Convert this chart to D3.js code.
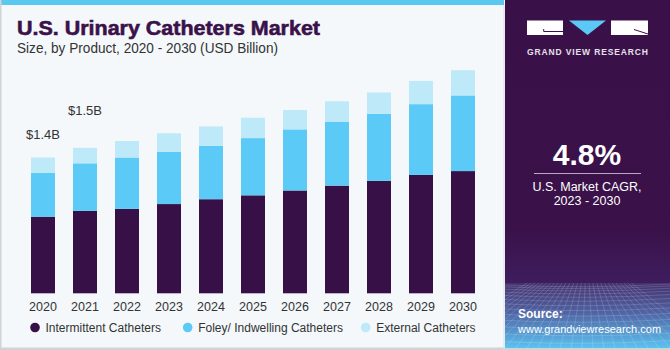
<!DOCTYPE html>
<html>
<head>
<meta charset="utf-8">
<script src="https://cdn.jsdelivr.net/npm/d3@7"></script>
<style>
  body { margin: 0; padding: 0; background: #fff; }
  svg { display: block; font-family: "Liberation Sans", Arial, sans-serif; }
</style>
</head>
<body>
<div id="chart"></div>
<script>
// data (USD billion)
const years = ["2020", "2021", "2022", "2023", "2024", "2025", "2026", "2027", "2028", "2029", "2030"];
const intermittent = [0.79, 0.85, 0.87, 0.92, 0.97, 1.01, 1.06, 1.11, 1.16, 1.22, 1.26];
const foley = [0.45, 0.49, 0.53, 0.54, 0.55, 0.59, 0.63, 0.66, 0.69, 0.73, 0.78];
const external = [0.16, 0.16, 0.17, 0.19, 0.20, 0.21, 0.20, 0.21, 0.22, 0.24, 0.26];
const seriesNames = ["Intermittent Catheters", "Foley/ Indwelling Catheters", "External Catheters"];
const valueLabels = ["$1.4B", "$1.5B"];

const width = 670, height = 350;
const colors = ["#371047", "#5bcaf7", "#bde9f9"];

const svg = d3.select("#chart").append("svg")
    .attr("width", width)
    .attr("height", height);

// chart background
svg.append("rect").attr("width", 505).attr("height", height).attr("fill", "#f4f8fb");
svg.append("rect").attr("width", 504).attr("height", 5).attr("fill", "#5bc8f0");
svg.append("rect").attr("x", 0).attr("y", 0).attr("width", 1.5).attr("height", height).attr("fill", "#cfd3d6");
svg.append("rect").attr("x", 0).attr("y", 347.5).attr("width", 505).attr("height", 2.5).attr("fill", "#cfd3d6");
svg.append("rect").attr("x", 503.5).attr("y", 5).attr("width", 1).attr("height", height).attr("fill", "#d6dde2");

// title
svg.append("text")
    .attr("x", 17).attr("y", 35)
    .attr("fill", "#3a1149")
    .attr("stroke", "#3a1149").attr("stroke-width", 0.6)
    .style("font-size", "21px").style("font-weight", "bold")
    .attr("textLength", 303).attr("lengthAdjust", "spacingAndGlyphs")
    .text("U.S. Urinary Catheters Market");
svg.append("text")
    .attr("x", 17).attr("y", 53)
    .attr("fill", "#333")
    .style("font-size", "14px")
    .attr("textLength", 261).attr("lengthAdjust", "spacingAndGlyphs")
    .text("Size, by Product, 2020 - 2030 (USD Billion)");

// scales
const x = d3.scaleBand()
    .domain(years)
    .range([22, 484])
    .paddingInner(0.4286)
    .paddingOuter(0.2143);

const y = d3.scaleLinear()
    .domain([0, 2.4])
    .range([293.3, 293.3 - 2.4 * 97]);

const table = years.map((yr, i) => ({
    year: yr,
    intermittent: intermittent[i],
    foley: foley[i],
    external: external[i]
}));

const stack = d3.stack().keys(["intermittent", "foley", "external"]);
const layers = stack(table);

const plot = svg.append("g");

plot.selectAll(".layer")
    .data(layers)
    .enter()
    .append("g")
    .attr("class", "layer")
    .attr("fill", (d, i) => colors[i])
    .selectAll("rect")
    .data(d => d)
    .enter()
    .append("rect")
    .attr("x", d => x(d.data.year))
    .attr("y", d => y(d[1]))
    .attr("width", x.bandwidth())
    .attr("height", d => y(d[0]) - y(d[1]));

// year labels
const xAxis = svg.append("g")
    .attr("transform", "translate(0,293.3)")
    .call(d3.axisBottom(x).tickSize(0).tickPadding(9));
xAxis.select(".domain").remove();
xAxis.selectAll("text")
    .attr("fill", "#333")
    .style("font-size", "12.5px")
    .style("font-family", "'Liberation Sans', Arial, sans-serif");

// value labels above the first two bars
svg.selectAll(".value-label")
    .data(valueLabels)
    .enter()
    .append("text")
    .attr("class", "value-label")
    .attr("x", (d, i) => x(years[i]) + x.bandwidth() / 2)
    .attr("y", (d, i) => y(layers[2][i][1]) - (i === 0 ? 19 : 33))
    .attr("text-anchor", "middle")
    .attr("fill", "#333")
    .style("font-size", "13px")
    .text(d => d);

// legend
const legendX = [35, 187.7, 365.7];
const legend = svg.selectAll(".legend")
    .data(seriesNames)
    .enter()
    .append("g")
    .attr("class", "legend")
    .attr("transform", (d, i) => `translate(${legendX[i]},327.5)`);
legend.append("circle")
    .attr("r", 4.8)
    .attr("fill", (d, i) => colors[i]);
legend.append("text")
    .attr("x", 10.5)
    .attr("y", 4.3)
    .attr("fill", "#333")
    .style("font-size", "12px")
    .text(d => d);

// right panel
const panel = svg.append("g").attr("transform", "translate(505,0)");
const defs = svg.append("defs");
const grad = defs.append("linearGradient")
    .attr("id", "srcGrad").attr("x1", 0).attr("y1", 0).attr("x2", 0).attr("y2", 1);
grad.append("stop").attr("offset", "0%").attr("stop-color", "#44306e");
grad.append("stop").attr("offset", "45%").attr("stop-color", "#4f63a3");
grad.append("stop").attr("offset", "100%").attr("stop-color", "#5cc2f0");
const topGrad = defs.append("linearGradient")
    .attr("id", "topGrad").attr("x1", 0).attr("y1", 0).attr("x2", 0).attr("y2", 1);
topGrad.append("stop").attr("offset", "0%").attr("stop-color", "#3a1048");
topGrad.append("stop").attr("offset", "80%").attr("stop-color", "#3a1149");
topGrad.append("stop").attr("offset", "100%").attr("stop-color", "#3e1d5e");

panel.append("rect").attr("width", 165).attr("height", 283).attr("fill", "url(#topGrad)");
panel.append("rect").attr("y", 283).attr("width", 165).attr("height", 65).attr("fill", "url(#srcGrad)");

// grid texture in source area
const gridG = panel.append("g")
    .attr("stroke", "#ffffff")
    .attr("stroke-opacity", 0.22)
    .attr("stroke-width", 0.7)
    .attr("fill", "none");
d3.range(0, 16).forEach(k => {
    const yy = 285 + k * k * 0.26 + k * 1.6;
    gridG.append("path").attr("d", `M0,${yy} Q82,${yy + 4} 165,${yy - 1}`);
});
d3.range(-8, 20).forEach(k => {
    const xb = k * 11;
    gridG.append("path").attr("d", `M${82 + (xb - 82) * 0.35},283 L${xb},348`);
});
panel.append("rect").attr("y", 348).attr("width", 165).attr("height", 2).attr("fill", "#cfd3d6");

// logo
panel.append("rect").attr("x", 22).attr("y", 20.5).attr("width", 36).attr("height", 14.5).attr("fill", "#fff");
panel.append("path").attr("d", "M64,20.5 L101,20.5 L82.5,35 Z").attr("fill", "#5bc8f5");
panel.append("rect").attr("x", 106).attr("y", 20.5).attr("width", 37).attr("height", 14.5).attr("fill", "#fff");
panel.append("path").attr("d", "M38.7,31.5 L58,31.5 M38.7,31.5 L38.7,29")
    .attr("stroke", "#3a1149").attr("stroke-width", 1).attr("fill", "none");
panel.append("path").attr("d", "M129,29.5 L143,34")
    .attr("stroke", "#3a1149").attr("stroke-width", 1).attr("fill", "none");
panel.append("text")
    .attr("x", 82.5).attr("y", 55)
    .attr("text-anchor", "middle")
    .attr("fill", "#e6e1ea")
    .style("font-size", "8.5px").style("font-weight", "bold")
    .attr("textLength", 121).attr("lengthAdjust", "spacing")
    .text("GRAND VIEW RESEARCH");

// CAGR
panel.append("text")
    .attr("x", 82).attr("y", 165)
    .attr("text-anchor", "middle")
    .attr("fill", "#fff")
    .style("font-size", "30px").style("font-weight", "bold")
    .text("4.8%");
panel.append("line")
    .attr("x1", 29).attr("x2", 136)
    .attr("y1", 173.5).attr("y2", 173.5)
    .attr("stroke", "#b9a9c4").attr("stroke-width", 1.2);
panel.append("text")
    .attr("x", 82).attr("y", 191)
    .attr("text-anchor", "middle")
    .attr("fill", "#fff")
    .style("font-size", "12.5px")
    .text("U.S. Market CAGR,");
panel.append("text")
    .attr("x", 82).attr("y", 205)
    .attr("text-anchor", "middle")
    .attr("fill", "#fff")
    .style("font-size", "12.5px")
    .text("2023 - 2030");

// source
panel.append("text")
    .attr("x", 13).attr("y", 318)
    .attr("fill", "#fff")
    .style("font-size", "12px").style("font-weight", "bold")
    .text("Source:");
panel.append("text")
    .attr("x", 13).attr("y", 332.5)
    .attr("fill", "#fff")
    .style("font-size", "11px")
    .text("www.grandviewresearch.com");
</script>
</body>
</html>
